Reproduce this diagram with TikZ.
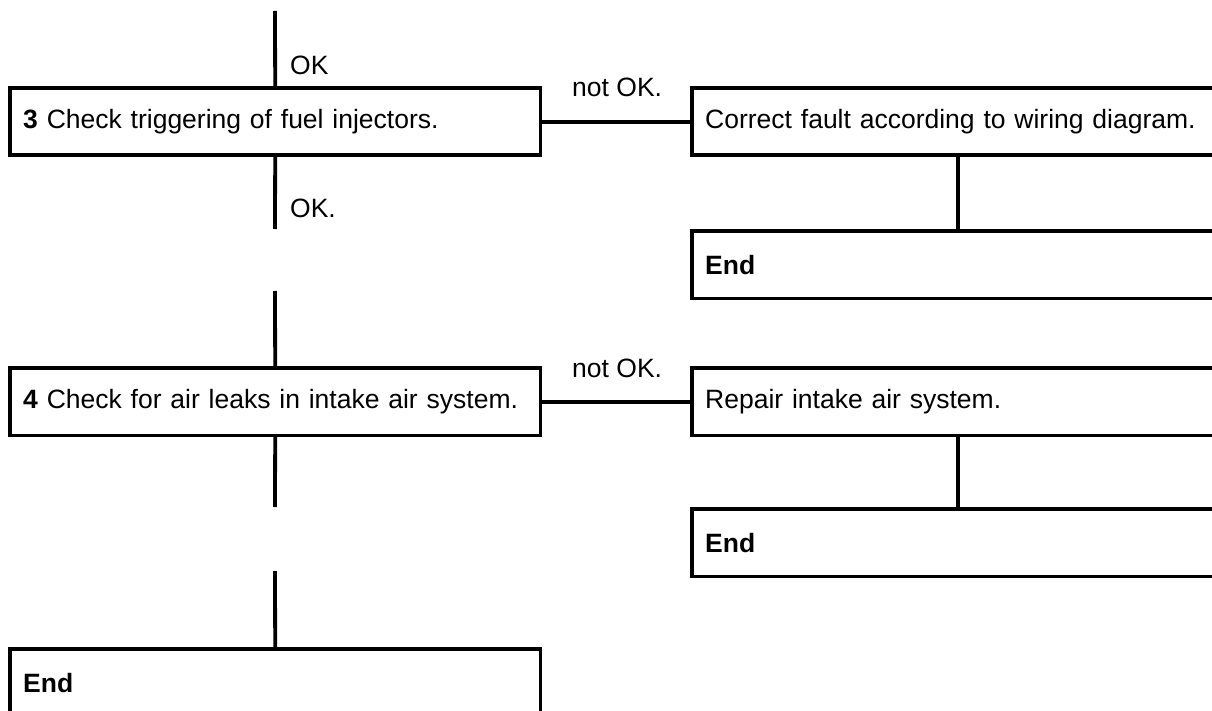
\documentclass[tikz,border=0pt]{standalone}
\usepackage{fontspec}
\setmainfont{Liberation Sans}
\begin{document}
\begin{tikzpicture}[x=1pt,y=-1pt,
  lw/.style={line width=3.8pt},
  box/.style={anchor=north west, inner xsep=13pt, inner ysep=0pt, minimum height=67pt,
    text width=#1, align=left, font=\fontsize{26.5}{30}\selectfont},
  lbl/.style={anchor=base west, inner sep=0pt, font=\fontsize{26.5}{30}\selectfont}]
\useasboundingbox (0,0) rectangle (1212,711);
\fill[white] (0,0) rectangle (1212,711);
\clip (0,0) rectangle (1212,711);
% boxes
\node[box=504pt] (b3) at (10,88) {\textbf{3} Check triggering of fuel injectors.};
\node[box=506pt] (c3) at (692,88) {Correct fault according to wiring diagram.};
\node[box=506pt] (e3) at (692,231) {\textbf{End}};
\node[box=504pt] (b4) at (10,368) {\textbf{4} Check for air leaks in intake air system.};
\node[box=506pt] (c4) at (692,368) {Repair intake air system.};
\node[box=506pt] (e4) at (692,509) {\textbf{End}};
\node[box=504pt] (e5) at (10,649) {\textbf{End}};
% borders
\draw[lw] (b3.north west) rectangle (b3.south east);
\draw[lw] (b4.north west) rectangle (b4.south east);
\foreach \n in {c3,e3,c4,e4}{
  \draw[lw] (\n.north east) -- (\n.north west) -- (\n.south west) -- (\n.south east);
}
\draw[lw] (e5.south west) -- (e5.north west) -- (e5.north east) -- (e5.south east);
% connectors
\coordinate (t3) at (275,11);
\coordinate (d3) at (275,229);
\coordinate (t4) at (275,291);
\coordinate (d4) at (275,507);
\coordinate (t5) at (275,571);
\draw[lw] (t3) -- (b3.north);
\draw[lw] (b3.south) -- (d3);
\draw[lw] (b3.east) -- (c3.west);
\draw[lw] (c3.south) -- (e3.north);
\draw[lw] (t4) -- (b4.north);
\draw[lw] (b4.south) -- (d4);
\draw[lw] (b4.east) -- (c4.west);
\draw[lw] (c4.south) -- (e4.north);
\draw[lw] (t5) -- (e5.north);
% labels
\node[lbl] (ok1) at (290,75) {OK};
\node[lbl] (ok2) at (290,218) {OK.};
\node[lbl] (nok1) at (572,97) {not OK.};
\node[lbl] (nok2) at (572,377) {not OK.};
\end{tikzpicture}
\end{document}
